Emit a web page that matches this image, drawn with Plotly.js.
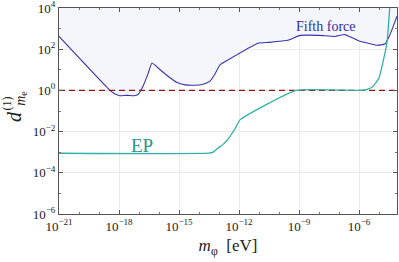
<!DOCTYPE html>
<html><head><meta charset="utf-8">
<script src="https://cdn.plot.ly/plotly-3.0.1.min.js"></script>
<style>html,body{margin:0;padding:0;background:#fff}#c{width:399px;height:262px}</style>
</head><body><div id="c"></div>
<script>
// log10 of m_phi [eV] and log10 of d_me^(1)
const fifthLogM = [-21,-18.45,-18.2,-17.95,-17.6,-17.25,-17.05,-16.8,-16.55,-16.35,-16.0,-15.5,-15.1,-14.7,-14.2,-13.8,-13.45,-13.2,-12.95,-12.6,-11.05,-10.5,-9.55,-8.95,-8.0,-7.2,-6.7,-6.45,-6.0,-5.55,-5.1,-4.7,-4.5,-4.35,-4.1];
const fifthLogD = [2.62,0.0,-0.18,-0.26,-0.24,-0.26,-0.2,0.2,0.8,1.33,1.05,0.65,0.38,0.27,0.25,0.3,0.45,0.8,1.24,1.45,2.29,2.33,2.43,2.67,2.67,2.62,2.71,2.6,2.4,2.29,2.19,2.25,2.6,2.95,3.6];
const epLogM = [-21,-13.5,-13.3,-13.05,-12.8,-12.6,-12.2,-11.95,-9.15,-5.85,-5.6,-5.3,-5.0,-4.8,-4.6,-4.45];
const epLogD = [-3.05,-3.05,-3.0,-2.8,-2.62,-2.43,-1.86,-1.43,0,0,0.05,0.19,0.6,1.38,2.33,4.2];
const refLogM = [-21,-4.1];
const refLogD = [0,0];
const yTopLog = 4;
const xTickExp = [-21,-18,-15,-12,-9,-6];
const yTickExp = [-6,-4,-2,0,2,4];

const p = v => v.map(a => Math.pow(10, a));
const lbl = v => v.map(e => '10<sup>' + String(e).replace('-', '−') + '</sup>');
const serif = '"Liberation Serif", "DejaVu Serif", serif';

const traces = [
  {x: p(fifthLogM), y: fifthLogM.map(() => Math.pow(10, yTopLog)), mode:'lines', line:{width:0}, hoverinfo:'skip', showlegend:false},
  {x: p(fifthLogM), y: p(fifthLogD), mode:'lines', fill:'tonexty', fillcolor:'rgba(245,245,252,1)', line:{color:'#3535b0', width:1.1, shape:'spline', smoothing:0.4}, showlegend:false},
  {x: p(refLogM), y: p(refLogD), mode:'lines', line:{color:'#9b1010', width:1.3, dash:'6px,4px'}, showlegend:false},
  {x: p(epLogM), y: p(epLogD), mode:'lines', line:{color:'#30b0aa', width:1.3, shape:'spline', smoothing:0.4}, showlegend:false}
];

const axBase = {
  type:'log', showline:true, linecolor:'#555', linewidth:1, mirror:'allticks',
  ticks:'inside', ticklen:4, tickcolor:'#555', showgrid:true, gridcolor:'#ebebeb', gridwidth:1,
  zeroline:false, tickfont:{family:serif, size:13, color:'#222'}, layer:'above traces',
  ticklabeloverflow:'allow'
};

const layout = {
  width:399, height:262,
  margin:{l:59, r:2, t:8, b:48},
  paper_bgcolor:'#fff', plot_bgcolor:'#fff',
  showlegend:false,
  xaxis: Object.assign({}, axBase, {range:[-21.0001,-4.1], tickmode:'array', tickvals:p(xTickExp), ticktext:lbl(xTickExp),
    minor:{ticks:'inside', ticklen:2, tickcolor:'#777', dtick:1, showgrid:false},
    title:{text:'<i>m</i><sub>φ</sub>  [eV]', font:{family:serif, size:17, color:'#222'}, standoff:6}}),
  yaxis: Object.assign({}, axBase, {range:[-6.0001,4.0001], tickmode:'array', tickvals:p(yTickExp), ticktext:lbl(yTickExp),
    minor:{ticks:'inside', ticklen:2, tickcolor:'#777', dtick:1, showgrid:false}}),
  annotations:[
    {x:-7.7, y:3.12, xref:'x', yref:'y', text:'Fifth force', showarrow:false, font:{family:serif, size:14, color:'#2e2ea0'}},
    {x:-16.85, y:-2.67, xref:'x', yref:'y', text:'EP', showarrow:false, font:{family:serif, size:19, color:'#2a9590'}},
    {x:-0.133, y:0.471, xref:'paper', yref:'paper', text:'<i>d</i>', textangle:-90, showarrow:false, xanchor:'center', yanchor:'middle', font:{family:serif, size:20, color:'#222'}},
    {x:-0.154, y:0.536, xref:'paper', yref:'paper', text:'(1)', textangle:-90, showarrow:false, xanchor:'center', yanchor:'middle', font:{family:serif, size:12, color:'#222'}},
    {x:-0.112, y:0.56, xref:'paper', yref:'paper', text:'<i>m</i><sub>e</sub>', textangle:-90, showarrow:false, xanchor:'center', yanchor:'middle', font:{family:serif, size:14, color:'#222'}}
  ]
};

Plotly.newPlot('c', traces, layout, {staticPlot:true, displayModeBar:false});
</script></body></html>
